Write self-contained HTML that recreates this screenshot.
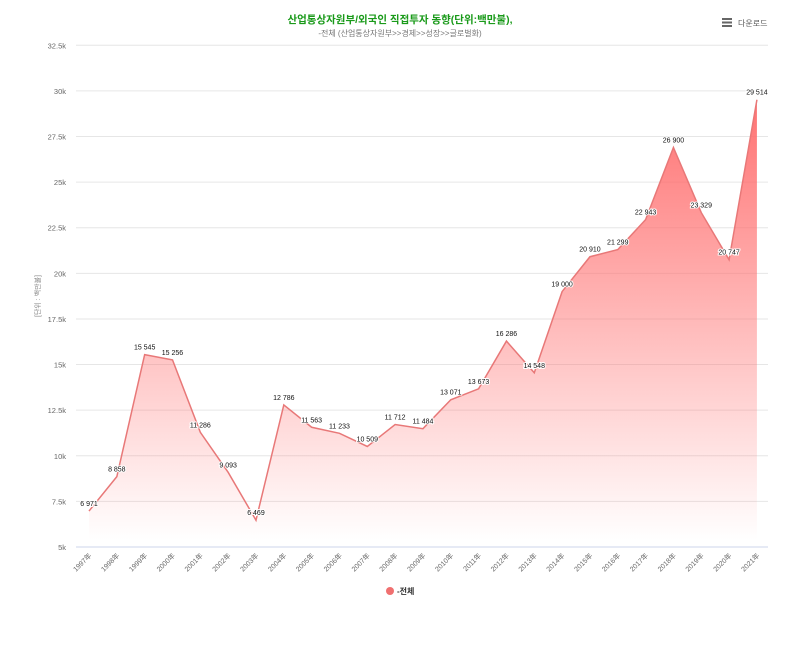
<!DOCTYPE html>
<html><head><meta charset="utf-8"><style>
body{margin:0;background:#fff;font-family:"Liberation Sans","Noto Sans CJK KR",sans-serif}
</style></head><body>
<svg id="s" width="800" height="640" xmlns="http://www.w3.org/2000/svg" font-family="Liberation Sans, Noto Sans CJK KR, sans-serif">
<defs><linearGradient id="g" x1="0" y1="0" x2="0" y2="1">
<stop offset="0" stop-color="#ff6b6b" stop-opacity="0.95"/>
<stop offset="1" stop-color="#ff6b6b" stop-opacity="0"/></linearGradient></defs>
<text x="400" y="23" text-anchor="middle" font-size="10.5" font-weight="bold" fill="#1a9a1a">산업통상자원부/외국인 직접투자 동향(단위:백만불),</text>
<text x="400" y="36" text-anchor="middle" font-size="8" fill="#777">-전체 (산업통상자원부&gt;&gt;경제&gt;&gt;성장&gt;&gt;글로벌화)</text>
<g fill="#666"><rect x="722" y="18" width="10" height="2"/><rect x="722" y="21.5" width="10" height="2"/><rect x="722" y="25" width="10" height="2"/></g>
<text x="738" y="26" font-size="8" fill="#555">다운로드</text>
<text x="40" y="296" font-size="7" fill="#888" text-anchor="middle" transform="rotate(-90 40 296)">[단위 : 백만불]</text>
<g id="grid"></g><g id="plot"></g>
<circle cx="390" cy="591" r="4" fill="#f07070"/>
<text x="397" y="594" font-size="8" font-weight="bold" fill="#333">-전체</text>
</svg>
<script>
const v=[6971,8858,15545,15256,11286,9093,6469,12786,11563,11233,10509,11712,11484,13071,13673,16286,14548,19000,20910,21299,22943,26900,23329,20747,29514];
const X=i=>89+i*27.83, Y=t=>547-(t-5000)*0.018245;
let g='';
for(let k=0;k<=11;k++){const t=5000+k*2500,y=Y(t);g+=`<line x1="76" x2="768" y1="${y}" y2="${y}" stroke="${k==0?'#ccd6eb':'#e6e6e6'}" stroke-width="1"/>`;
g+=`<text x="66" y="${y+3}" text-anchor="end" font-size="7.5" fill="#666">${t%1000==0?t/1000:(t/1000).toFixed(1)}k</text>`;}
document.getElementById('grid').innerHTML=g;
let p='',pts=v.map((t,i)=>X(i)+','+Y(t)).join(' ');
p+=`<polygon points="${pts} ${X(24)},540 ${X(0)},540" fill="url(#g)"/>`;
p+=`<polyline points="${pts}" fill="none" stroke="#e87878" stroke-width="1.5"/>`;
v.forEach((t,i)=>{const s=String(t).replace(/(\d+)(\d{3})$/,'$1 $2');
p+=`<text x="${X(i)}" y="${Y(t)-5}" text-anchor="middle" font-size="7" fill="#111" stroke="#fff" stroke-width="2" paint-order="stroke">${s}</text>`;
const lx=X(i)+3,ly=556;p+=`<text x="${lx}" y="${ly}" text-anchor="end" font-size="7" fill="#666" transform="rotate(-45 ${lx} ${ly})">${1997+i}年</text>`;});
document.getElementById('plot').innerHTML=p;
</script>
</body></html>
